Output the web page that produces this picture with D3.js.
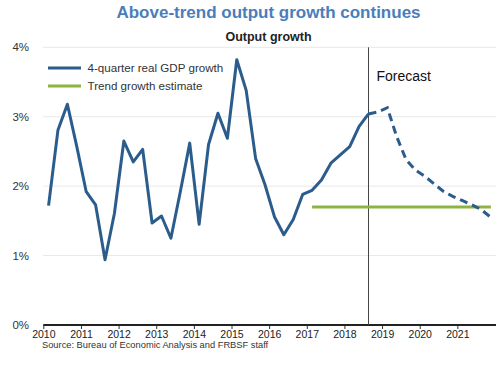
<!DOCTYPE html>
<html>
<head>
<meta charset="utf-8">
<script src="https://cdn.jsdelivr.net/npm/d3@7"></script>
<style>
  body { margin: 0; background: #fff; }
  svg { font-family: "Liberation Sans", Arial, sans-serif; }
</style>
</head>
<body>
<div id="chart"></div>
<script>
// Quarterly 4-quarter real GDP growth, 2010Q1 - 2018Q3 (actual)
const actualStart = "2010Q1";
const actualValues = [
    1.72, 2.81, 3.18, 2.57,
    1.92, 1.73, 0.94, 1.61,
    2.65, 2.35, 2.53, 1.47,
    1.57, 1.25, 1.92, 2.62,
    1.45, 2.60, 3.05, 2.69,
    3.82, 3.38, 2.40, 2.02,
    1.56, 1.30, 1.52, 1.88,
    1.94, 2.09, 2.33, 2.45,
    2.57, 2.86, 3.04
];

// Forecast, 2018Q3 - 2021Q4
const forecastStart = "2018Q3";
const forecastValues = [
    3.04, 3.07,
    3.13, 2.71, 2.38, 2.23,
    2.14, 2.03, 1.92, 1.85,
    1.79, 1.73, 1.66, 1.55
];

// Trend growth estimate, 2017Q1 - 2021Q4
const trendQuarters = ["2017Q1", "2021Q4"];
const trendValue = 1.7;

const forecastQuarter = "2018Q3";
const yearTicks = [2010, 2011, 2012, 2013, 2014, 2015, 2016, 2017, 2018, 2019, 2020, 2021];
const yTicks = [0, 1, 2, 3, 4];

// quarter string -> decimal year (points sit inside the quarter)
function qToYear(q) {
    const y = +q.slice(0, 4), n = +q.slice(5);
    return y + (n - 1) / 4 + 0.14;
}
function seriesFrom(start, values) {
    const t0 = qToYear(start);
    return values.map((v, i) => ({ t: t0 + i / 4, value: v }));
}

const W = 500, H = 365;
const svg = d3.select("#chart").append("svg")
    .attr("width", W)
    .attr("height", H);

const xScale = d3.scaleLinear().domain([2010, 2022]).range([43.3, 495]);
const yScale = d3.scaleLinear().domain([0, 4]).range([325, 47.3]);

// Title
svg.append("text")
    .attr("x", 268.5)
    .attr("y", 18)
    .attr("text-anchor", "middle")
    .attr("font-size", "17px")
    .attr("font-weight", "bold")
    .attr("fill", "#4a7ebb")
    .text("Above-trend output growth continues");

svg.append("text")
    .attr("x", 268.5)
    .attr("y", 41)
    .attr("text-anchor", "middle")
    .attr("font-size", "12.5px")
    .attr("font-weight", "bold")
    .attr("fill", "#222")
    .text("Output growth");

// Grid lines
svg.append("g")
    .selectAll("line")
    .data(yTicks.filter(d => d > 0))
    .join("line")
    .attr("x1", xScale(2010))
    .attr("x2", 496)
    .attr("y1", d => yScale(d))
    .attr("y2", d => yScale(d))
    .attr("stroke", "#e8e8e8")
    .attr("stroke-width", 1);

// Y labels
svg.append("g")
    .selectAll("text")
    .data(yTicks)
    .join("text")
    .attr("x", 29)
    .attr("y", d => yScale(d) + 4)
    .attr("text-anchor", "end")
    .attr("font-size", "11.5px")
    .attr("fill", "#333")
    .text(d => d + "%");

// X axis
const xAxis = svg.append("g")
    .attr("transform", `translate(0,${yScale(0)})`)
    .call(d3.axisBottom(xScale)
        .tickValues(yearTicks)
        .tickFormat(d3.format("d"))
        .tickSize(4)
        .tickSizeOuter(0));
xAxis.select(".domain").remove();
xAxis.selectAll(".tick line").attr("stroke", "#333");
xAxis.selectAll(".tick text")
    .attr("font-size", "10.5px")
    .attr("font-family", "Liberation Sans, Arial, sans-serif")
    .attr("fill", "#222")
    .attr("dy", "0.72em")
    .attr("y", 5);
svg.append("line")
    .attr("x1", xScale(2010))
    .attr("x2", 496)
    .attr("y1", yScale(0))
    .attr("y2", yScale(0))
    .attr("stroke", "#222")
    .attr("stroke-width", 2);

// Forecast divider
const fx = xScale(qToYear(forecastQuarter));
svg.append("line")
    .attr("x1", fx)
    .attr("x2", fx)
    .attr("y1", yScale(4))
    .attr("y2", yScale(0))
    .attr("stroke", "#444")
    .attr("stroke-width", 1);

svg.append("text")
    .attr("x", fx + 8)
    .attr("y", 80.5)
    .attr("font-size", "14px")
    .attr("fill", "#111")
    .text("Forecast");

const line = d3.line()
    .x(d => xScale(d.t))
    .y(d => yScale(d.value));

// Trend line
const trend = trendQuarters.map(q => ({ t: qToYear(q), value: trendValue }));
svg.append("path")
    .datum(trend)
    .attr("d", line)
    .attr("fill", "none")
    .attr("stroke", "#8db340")
    .attr("stroke-width", 3);

// Actual GDP growth
svg.append("path")
    .datum(seriesFrom(actualStart, actualValues))
    .attr("d", line)
    .attr("fill", "none")
    .attr("stroke", "#2b5d8c")
    .attr("stroke-width", 3)
    .attr("stroke-linejoin", "round");

// Forecast GDP growth (dashed)
svg.append("path")
    .datum(seriesFrom(forecastStart, forecastValues))
    .attr("d", line)
    .attr("fill", "none")
    .attr("stroke", "#2b5d8c")
    .attr("stroke-width", 3)
    .attr("stroke-dasharray", "8,5");

// Legend
const legend = svg.append("g").attr("transform", "translate(48,68)");
const legendItems = [
    { label: "4-quarter real GDP growth", color: "#2b5d8c" },
    { label: "Trend growth estimate", color: "#8db340" }
];
legendItems.forEach((item, i) => {
    const y = i * 18;
    legend.append("line")
        .attr("x1", 0)
        .attr("x2", 33)
        .attr("y1", y)
        .attr("y2", y)
        .attr("stroke", item.color)
        .attr("stroke-width", 3);
    legend.append("text")
        .attr("x", 39.5)
        .attr("y", y + 4)
        .attr("font-size", "11.6px")
        .attr("fill", "#333")
        .text(item.label);
});

// Source
svg.append("text")
    .attr("x", 42)
    .attr("y", 347.5)
    .attr("font-size", "9.3px")
    .attr("fill", "#333")
    .text("Source: Bureau of Economic Analysis and FRBSF staff");
</script>
</body>
</html>
